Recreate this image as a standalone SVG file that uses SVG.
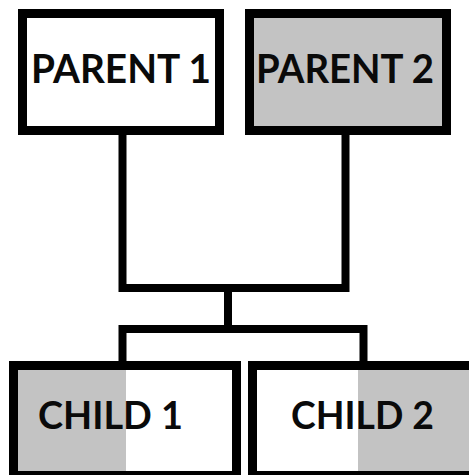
<svg xmlns="http://www.w3.org/2000/svg" width="469" height="475" viewBox="0 0 469 475">
  <style>
    .box { stroke: #000; stroke-width: 9; }
    .white { fill: #fff; }
    .grey { fill: #c3c3c3; }
    .label { font-family: Lato, "Liberation Sans", Arial, sans-serif; font-weight: bold; fill: #0a0a0a; }
    .link { fill: none; stroke: #000; stroke-width: 8; stroke-linecap: square; stroke-linejoin: miter; }
  </style>
  <rect width="469" height="475" fill="#fff"/>

  <g id="connectors">
    <path class="link" d="M122.5,135 V288 H345.5 V135"/>
    <path class="link" d="M228,288 V329"/>
    <path class="link" d="M122.5,361 V329 H363.5 V361"/>
  </g>

  <g id="parent1">
    <rect class="box white" x="22.5" y="13.5" width="197" height="117"/>
    <text class="label" x="31" y="83" font-size="40" textLength="180" lengthAdjust="spacingAndGlyphs">PARENT 1</text>
  </g>

  <g id="parent2">
    <rect class="box grey" x="249.5" y="13.5" width="197" height="117"/>
    <text class="label" x="256" y="83" font-size="40" textLength="178" lengthAdjust="spacingAndGlyphs">PARENT 2</text>
  </g>

  <g id="child1">
    <rect class="white" x="13.5" y="365.5" width="223" height="110"/>
    <rect class="grey" x="18" y="370" width="108" height="101"/>
    <rect class="box" fill="none" x="13.5" y="365.5" width="223" height="110"/>
    <text class="label" x="38" y="429" font-size="38" textLength="145" lengthAdjust="spacingAndGlyphs">CHILD 1</text>
  </g>

  <g id="child2">
    <rect class="white" x="252.5" y="365.5" width="230" height="110"/>
    <rect class="grey" x="358" y="370" width="120" height="101"/>
    <rect class="box" fill="none" x="252.5" y="365.5" width="230" height="110"/>
    <text class="label" x="291" y="429" font-size="38" textLength="143" lengthAdjust="spacingAndGlyphs">CHILD 2</text>
  </g>
</svg>
